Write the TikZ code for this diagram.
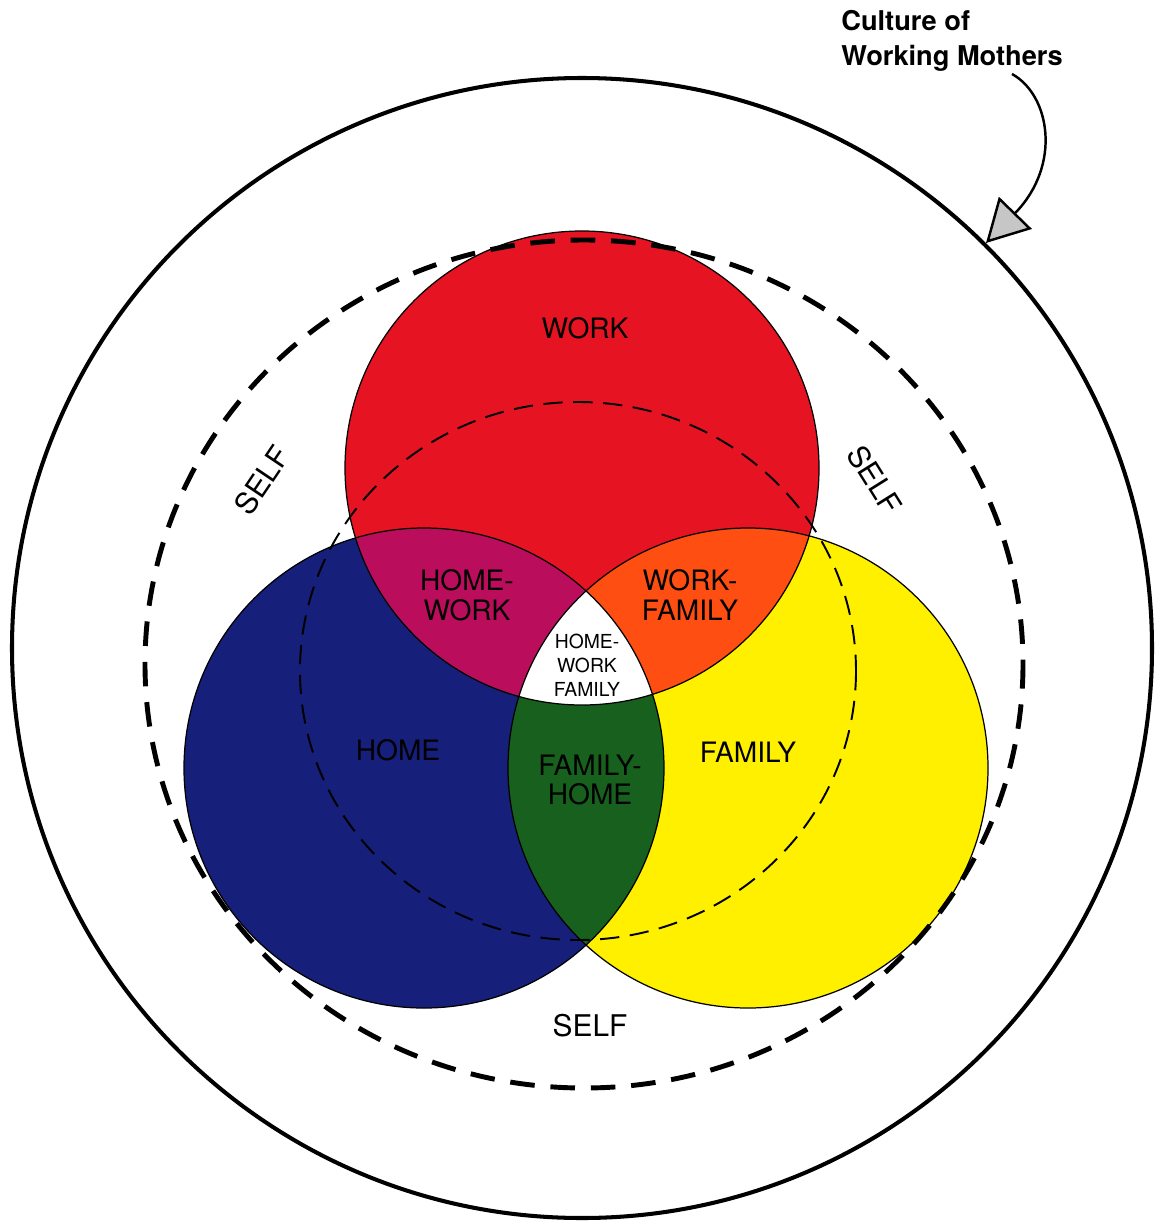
\documentclass[tikz,border=0pt]{standalone}
\usepackage{fontspec}
\setsansfont{TeX Gyre Heros}
\renewcommand{\familydefault}{\sfdefault}
\usetikzlibrary{arrows.meta}
\definecolor{workred}{RGB}{230,20,34}
\definecolor{homeblue}{RGB}{22,32,122}
\definecolor{familyyellow}{RGB}{255,240,0}
\definecolor{homeworkmag}{RGB}{186,14,92}
\definecolor{workfamorange}{RGB}{255,78,18}
\definecolor{famhomegreen}{RGB}{24,96,30}

\begin{document}
\begin{tikzpicture}[x=0.02cm,y=-0.02cm,
    region/.style={font=\fontsize{16}{17}\selectfont, align=center, inner sep=0pt},
    smallregion/.style={font=\fontsize{11}{13.6}\selectfont, align=center, inner sep=0pt},
    selflabel/.style={font=\fontsize{17}{18}\selectfont, inner sep=0pt},
    rim/.style={draw=black, line width=0.7pt}]
        \useasboundingbox (0,0) rectangle (1154,1224);
        \coordinate (cwork) at (582,468);
        \coordinate (chome) at (424,768);
        \coordinate (cfam) at (748,768);
        % the three spheres
        \fill[homeblue] (chome) circle (240);
        \fill[familyyellow] (cfam) circle (240);
        \fill[workred] (cwork) circle (237);
        \begin{scope}
            \clip (cwork) circle (237);
            \fill[homeworkmag] (chome) circle (240);
            \fill[workfamorange] (cfam) circle (240);
        \end{scope}
        \begin{scope}
            \clip (chome) circle (240);
            \fill[famhomegreen] (cfam) circle (240);
        \end{scope}
        \begin{scope}
            \clip (cwork) circle (237);
            \clip (chome) circle (240);
            \fill[white] (cfam) circle (240);
        \end{scope}
        \draw[rim] (chome) circle (240);
        \draw[rim] (cfam) circle (240);
        \draw[rim] (cwork) circle (237);
        % self boundaries
        \draw[line width=1.1pt, dash pattern=on 11pt off 6pt] (578,671) ellipse (278 and 269);
        \draw[line width=2.8pt, dash pattern=on 14pt off 9pt] (584,664) ellipse (439 and 424);
        \draw[line width=2.3pt] (582,648) circle (570);
        % labels
        \node[region] (work) at (585,328) {WORK};
        \node[region] (home) at (398,750) {HOME};
        \node[region] (family) at (748,752) {FAMILY};
        \node[region] (homework) at (467,595) {HOME-\\WORK};
        \node[region] (workfamily) at (690,595) {WORK-\\FAMILY};
        \node[region] (familyhome) at (590,780) {FAMILY-\\HOME};
        \node[smallregion] (all) at (587,665) {HOME-\\WORK\\FAMILY};
        \node[selflabel, rotate=56] (selfleft) at (262,480) {SELF};
        \node[selflabel, rotate=-58] (selfright) at (875,480) {SELF};
        \node[selflabel] (selfbottom) at (590,1026) {SELF};
        \node[font=\bfseries\fontsize{15.5}{19.8}\selectfont, align=left, anchor=north west, inner sep=0pt] (culture) at (841,10) {Culture of\\Working Mothers};
        \coordinate (tail) at (1012,74);
        \coordinate (tip) at (986,243);
        \draw[line width=1.4pt, -{Triangle[length=24pt, width=26pt, fill=gray!45, line width=1.4pt]}] (tail) .. controls (1050,95) and (1062,165) .. (tip);
\end{tikzpicture}
\end{document}
